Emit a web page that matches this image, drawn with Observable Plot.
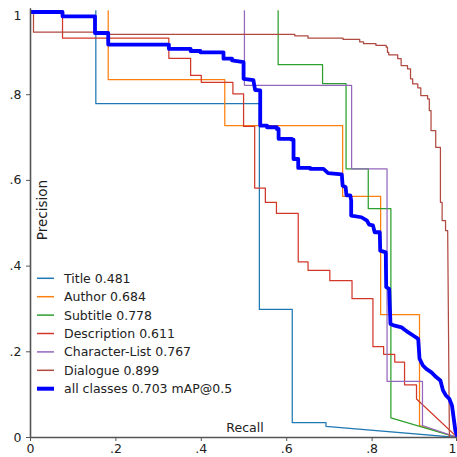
<!DOCTYPE html>
<html><head><meta charset="utf-8">
<script src="https://cdn.jsdelivr.net/npm/d3@7"></script>
<script src="https://cdn.jsdelivr.net/npm/@observablehq/plot@0.6"></script>
<style>body{margin:0;background:#fff} svg{display:block}</style>
</head><body><div id="chart"></div>
<script>
// ---- data ----
const classNames = ["Title", "Author", "Subtitle", "Description", "Character-List", "Dialogue"];
const classAP = [0.481, 0.684, 0.778, 0.611, 0.767, 0.899];
const classColors = ["#1f77b4", "#ff7f0e", "#2ca02c", "#d2382a", "#9467bd", "#b04a40"];
const allLabel = "all classes 0.703 mAP@0.5";
const allColor = "#0000ff";
const xTicks = [0, 0.2, 0.4, 0.6, 0.8, 1];
const xTickLabels = ["0", ".2", ".4", ".6", ".8", "1"];
const yTicks = [0, 0.2, 0.4, 0.6, 0.8, 1];
const yTickLabels = ["0", ".2", ".4", ".6", ".8", "1"];

const titleRecall    = [0, 0.153, 0.153, 0.536, 0.536, 0.613, 0.613, 0.692, 0.692, 1];
const titlePrecision = [1, 1, 0.779, 0.779, 0.299, 0.299, 0.035, 0.035, 0.026, 0];

const authorRecall    = [0, 0.182, 0.182, 0.455, 0.455, 0.731, 0.731, 0.820, 0.820, 0.911, 0.911, 1];
const authorPrecision = [1, 1, 0.835, 0.835, 0.728, 0.728, 0.563, 0.563, 0.287, 0.287, 0.028, 0];

const subtitleRecall    = [0, 0.580, 0.580, 0.684, 0.684, 0.739, 0.739, 0.791, 0.791, 0.844, 0.844, 1];
const subtitlePrecision = [1, 1, 0.870, 0.870, 0.826, 0.826, 0.627, 0.627, 0.534, 0.534, 0.046, 0];

const descriptionRecall = [0, 0.075, 0.075, 0.324, 0.324, 0.375, 0.375, 0.400, 0.400, 0.474, 0.474, 0.499, 0.499, 0.525, 0.525, 0.550, 0.550, 0.576, 0.576, 0.627, 0.627, 0.650, 0.650, 0.701, 0.701, 0.753, 0.753, 0.802, 0.802, 0.827, 0.827, 0.853, 0.853, 0.876, 0.876, 0.904, 0.904, 1];
const descriptionPrecision = [1, 1, 0.932, 0.932, 0.885, 0.885, 0.845, 0.845, 0.829, 0.829, 0.802, 0.802, 0.726, 0.726, 0.582, 0.582, 0.549, 0.549, 0.523, 0.523, 0.410, 0.410, 0.390, 0.390, 0.366, 0.366, 0.324, 0.324, 0.212, 0.212, 0.194, 0.194, 0.176, 0.176, 0.123, 0.123, 0.090, 0];

const charListRecall    = [0, 0.501, 0.501, 0.752, 0.752, 0.835, 0.835, 0.918, 0.918, 1];
const charListPrecision = [1, 1, 0.822, 0.822, 0.627, 0.627, 0.131, 0.131, 0.028, 0];

const dialogueRecall = [0, 0.007, 0.007, 0.151, 0.151, 0.619, 0.619, 0.650, 0.650, 0.732, 0.732, 0.771, 0.771, 0.780, 0.780, 0.809, 0.809, 0.833, 0.833, 0.836, 0.836, 0.839, 0.839, 0.860, 0.860, 0.868, 0.868, 0.883, 0.883, 0.890, 0.890, 0.895, 0.895, 0.907, 0.907, 0.914, 0.914, 0.930, 0.930, 0.934, 0.934, 0.938, 0.938, 0.949, 0.949, 0.960, 0.960, 0.964, 0.964, 0.972, 0.972, 0.977, 0.977, 0.981, 1];
const dialoguePrecision = [1, 1, 0.946, 0.946, 0.941, 0.941, 0.937, 0.937, 0.932, 0.932, 0.929, 0.929, 0.923, 0.923, 0.919, 0.919, 0.915, 0.915, 0.911, 0.911, 0.899, 0.899, 0.893, 0.893, 0.884, 0.884, 0.868, 0.868, 0.860, 0.860, 0.837, 0.837, 0.825, 0.825, 0.816, 0.816, 0.798, 0.798, 0.790, 0.790, 0.763, 0.763, 0.716, 0.716, 0.677, 0.677, 0.549, 0.549, 0.506, 0.506, 0.483, 0.483, 0.483, 0];

const allRecall = [0, 0.075, 0.075, 0.151, 0.151, 0.182, 0.182, 0.324, 0.324, 0.375, 0.375, 0.398, 0.398, 0.452, 0.452, 0.472, 0.472, 0.499, 0.499, 0.522, 0.526, 0.538, 0.538, 0.554, 0.554, 0.577, 0.577, 0.581, 0.581, 0.612, 0.612, 0.616, 0.616, 0.627, 0.627, 0.655, 0.655, 0.686, 0.697, 0.729, 0.731, 0.738, 0.740, 0.749, 0.751, 0.751, 0.775, 0.788, 0.793, 0.802, 0.806, 0.818, 0.819, 0.832, 0.833, 0.840, 0.843, 0.853, 0.869, 0.877, 0.884, 0.896, 0.908, 0.911, 0.919, 0.927, 0.939, 0.950, 0.960, 0.966, 0.973, 0.981, 0.987, 0.995, 1];
const allPrecision = [0.993, 0.993, 0.983, 0.983, 0.944, 0.944, 0.917, 0.917, 0.907, 0.907, 0.902, 0.902, 0.899, 0.899, 0.884, 0.884, 0.880, 0.876, 0.837, 0.834, 0.811, 0.810, 0.728, 0.728, 0.724, 0.724, 0.720, 0.720, 0.697, 0.697, 0.695, 0.695, 0.650, 0.650, 0.629, 0.629, 0.627, 0.627, 0.617, 0.614, 0.588, 0.584, 0.565, 0.565, 0.553, 0.518, 0.514, 0.506, 0.497, 0.495, 0.479, 0.479, 0.436, 0.432, 0.351, 0.347, 0.265, 0.261, 0.257, 0.251, 0.246, 0.238, 0.230, 0.184, 0.168, 0.160, 0.152, 0.141, 0.133, 0.110, 0.098, 0.090, 0.075, 0.016, 0];

// ---- build tables ----
const seriesRecall = [titleRecall, authorRecall, subtitleRecall, descriptionRecall, charListRecall, dialogueRecall];
const seriesPrecision = [titlePrecision, authorPrecision, subtitlePrecision, descriptionPrecision, charListPrecision, dialoguePrecision];
const rows = [];
classNames.forEach((name, k) => {
  seriesRecall[k].forEach((r, i) => rows.push({cls: name, recall: r, precision: seriesPrecision[k][i]}));
});
const allRows = allRecall.map((r, i) => ({recall: r, precision: allPrecision[i]}));
const xFmt = d => xTickLabels[xTicks.indexOf(d)];
const yFmt = d => yTickLabels[yTicks.indexOf(d)];

const chart = Plot.plot({
  width: 457, height: 457,
  marginLeft: 30, marginRight: 0, marginTop: 8.5, marginBottom: 20,
  style: {fontFamily: "DejaVu Sans", fontSize: "12.5px", color: "#222", background: "#fff"},
  x: {domain: [0, 1]},
  y: {domain: [0, 1]},
  color: {domain: classNames, range: classColors},
  marks: [
    Plot.line(rows, {x: "recall", y: "precision", z: "cls", stroke: "cls", strokeWidth: 1.25, clip: true}),
    Plot.line(allRows, {x: "recall", y: "precision", stroke: allColor, strokeWidth: 3.8, clip: true}),
    Plot.axisX({ticks: xTicks.slice(0, -1), tickFormat: xFmt, tickSize: 4, tickPadding: 3, label: null, stroke: "#555"}),
    Plot.axisX({ticks: xTicks.slice(-1), tickFormat: xFmt, tickSize: 4, tickPadding: 3, label: null, stroke: "#555", textAnchor: "end", dx: -1}),
    Plot.axisY({ticks: yTicks.slice(0, -1), tickFormat: yFmt, tickSize: 4, tickPadding: 5, label: null, stroke: "#555"}),
    Plot.axisY({ticks: yTicks.slice(-1), tickFormat: yFmt, tickSize: 0, tickPadding: 9, label: null, stroke: "#555", dy: 7}),
    Plot.ruleX([0], {stroke: "#555", strokeWidth: 1.6}),
    Plot.ruleY([0], {stroke: "#555", strokeWidth: 1.6})
  ]
});
document.getElementById("chart").appendChild(chart);

const svg = d3.select(chart);
// hide the half-clipped thin strokes lying on the top edge of the frame (as in the reference),
// placed below the thick "all classes" line
const lineGroups = chart.querySelectorAll("g[aria-label='line']");
const cover = document.createElementNS("http://www.w3.org/2000/svg", "rect");
cover.setAttribute("x", 31); cover.setAttribute("y", 0);
cover.setAttribute("width", 426); cover.setAttribute("height", 10.3);
cover.setAttribute("fill", "#fff");
if (lineGroups.length > 1) lineGroups[1].parentNode.insertBefore(cover, lineGroups[1]);
else chart.appendChild(cover);

// ---- axis titles and legend inside the frame ----
svg.append("text").attr("x", 245).attr("y", 432).attr("text-anchor", "middle")
  .attr("font-family", "DejaVu Sans").attr("font-size", 12.5).attr("fill", "#222").text("Recall");
svg.append("text").attr("transform", "translate(46.5,210) rotate(-90)").attr("text-anchor", "middle")
  .attr("font-family", "DejaVu Sans").attr("font-size", 13.5).attr("fill", "#222").text("Precision");

const legendLabels = classNames.map((n, i) => n + " " + classAP[i].toFixed(3)).concat([allLabel]);
const legendColors = classColors.concat([allColor]);
const legendWidths = classNames.map(() => 1.5).concat([4]);
const lg = svg.append("g").attr("text-anchor", "start");
legendLabels.forEach((t, i) => {
  const y = 278.3 + i * 18.4;
  lg.append("line").attr("x1", 37).attr("x2", 54).attr("y1", y).attr("y2", y)
    .attr("stroke", legendColors[i]).attr("stroke-width", legendWidths[i]);
  lg.append("text").attr("x", 64).attr("y", y).attr("dy", "0.36em").attr("text-anchor", "start")
    .attr("font-family", "DejaVu Sans").attr("font-size", 12.5).attr("fill", "#222").text(t);
});
</script>
</body></html>
